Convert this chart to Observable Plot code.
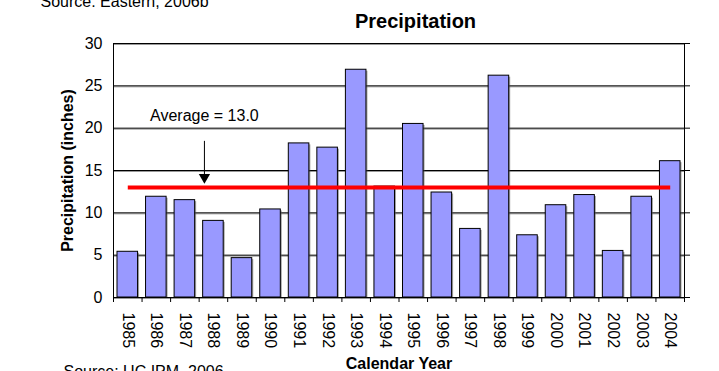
<!DOCTYPE html>
<html><head><meta charset="utf-8">
<script src="https://cdn.jsdelivr.net/npm/d3@7"></script>
<script src="https://cdn.jsdelivr.net/npm/@observablehq/plot@0.6"></script>
<style>html,body{margin:0;padding:0;background:#fff} svg{display:block}</style>
</head><body><div id="chart"></div>
<script>
// ---- data ----
const years = ["1985","1986","1987","1988","1989","1990","1991","1992","1993","1994",
               "1995","1996","1997","1998","1999","2000","2001","2002","2003","2004"];
const precipitation = [5.4, 11.9, 11.5, 9.05, 4.65, 10.4, 18.2, 17.7, 26.9, 13.1,
                       20.5, 12.4, 8.1, 26.2, 7.35, 10.9, 12.1, 5.5, 11.9, 16.1];
const average = 13.0;
const yTicks = [0, 5, 10, 15, 20, 25, 30];
const titleText = "Precipitation";
const xLabel = "Calendar Year";
const yLabel = "Precipitation (inches)";
const annotationText = "Average = 13.0";
const annotationYear = "1988";
const annotationTop = 21.4;     // text position (inches)
const arrowFrom = 18.5;         // arrow start (inches)
const arrowTo = 14.2;           // arrow head (inches)
const sourceTop = "Source: Eastern, 2006b";
const sourceBottom = "Source: UC IPM, 2006";

const data = years.map((year, i) => ({year, value: precipitation[i]}));

// ---- layout ----
const W = 719, H = 371, mL = 113, mR = 35, mT = 43, mB = 74;
const step = (W - mL - mR) / years.length;
const font = "Liberation Sans, Arial, Helvetica, sans-serif";

const chart = Plot.plot({
  width: W, height: H,
  marginLeft: mL, marginRight: mR, marginTop: mT, marginBottom: mB,
  style: {fontFamily: font, fontSize: "16px", color: "#000", background: "#fff"},
  x: {domain: years, type: "band", paddingInner: 0.28, paddingOuter: 0.14, round: false, axis: null},
  y: {domain: [0, 30], axis: null},
  marks: [
    // gridlines (with faint shadow)
    Plot.ruleY(yTicks, {stroke: "#999", strokeWidth: 1, dy: 1}),
    Plot.ruleY(yTicks, {stroke: "#000", strokeWidth: 1}),
    // bar shadows
    Plot.barY(data, {x: "year", y: "value", fill: "#555", fillOpacity: 0.55, dx: 1.5, dy: 1.5, insetBottom: 1.5}),
    // bars
    Plot.barY(data, {x: "year", y: "value", fill: "#9999FF", stroke: "#000", strokeWidth: 1}),
    // frame
    Plot.frame({stroke: "#000", strokeWidth: 1}),
    // average line from first to last bar
    Plot.link([{x1: years[0], x2: years[years.length - 1], y: average}],
      {x1: "x1", x2: "x2", y1: "y", y2: "y", stroke: "#FF0000", strokeWidth: 4}),
    // annotation arrow
    Plot.link([{year: annotationYear, a: arrowFrom, b: arrowTo}],
      {x1: "year", x2: "year", y1: "a", y2: "b", stroke: "#000", strokeWidth: 1, dx: -9}),
    Plot.dot([{year: annotationYear, v: arrowTo}],
      {x: "year", y: "v", symbol: "triangle", rotate: 180, r: 4.2, fill: "#000", stroke: "none", dx: -9}),
    Plot.text([annotationText], {x: () => annotationYear, y: () => annotationTop, dx: -9,
      fontSize: 16, fill: "#000"}),
    // y axis labels (left) and tick marks (right)
    Plot.axisY(yTicks, {anchor: "left", tickSize: 0, tickPadding: 11, fontSize: 16, label: null}),
    Plot.axisY(yTicks, {anchor: "right", tickSize: 5, tickFormat: () => "", label: null, stroke: "#000"}),
    // x tick marks at band boundaries
    Plot.ruleX(years, {x: d => d, y1: 0, y2: 0, insetBottom: -5, dx: -step / 2, stroke: "#000"}),
    Plot.ruleX([years[years.length - 1]], {x: d => d, y1: 0, y2: 0, insetBottom: -5, dx: step / 2, stroke: "#000"}),
    // year labels rotated
    Plot.text(years, {x: d => d, frameAnchor: "bottom", rotate: 90, textAnchor: "start",
      lineAnchor: "middle", dy: 15, fontSize: 16, fill: "#000"}),
    // titles
    Plot.text([titleText], {frameAnchor: "top", textAnchor: "middle", lineAnchor: "bottom", dx: 16.5, dy: -16,
      fontSize: 20, fontWeight: "bold", fill: "#000"}),
    Plot.text([xLabel], {frameAnchor: "bottom", textAnchor: "middle", lineAnchor: "bottom", dy: 71,
      fontSize: 16, fontWeight: "bold", fill: "#000"}),
    Plot.text([yLabel], {frameAnchor: "left", textAnchor: "middle", lineAnchor: "middle", rotate: -90, dx: -46,
      fontSize: 16, fontWeight: "bold", fill: "#000"}),
    Plot.text([sourceTop], {frameAnchor: "top-left", textAnchor: "start", lineAnchor: "bottom",
      dx: -73, dy: -36.5, fontSize: 16, fill: "#000"}),
    Plot.text([sourceBottom], {frameAnchor: "bottom-left", textAnchor: "start", lineAnchor: "bottom",
      dx: -50, dy: 79.5, fontSize: 16, fill: "#000"})
  ]
});
document.getElementById("chart").appendChild(chart);
</script>
</body></html>
